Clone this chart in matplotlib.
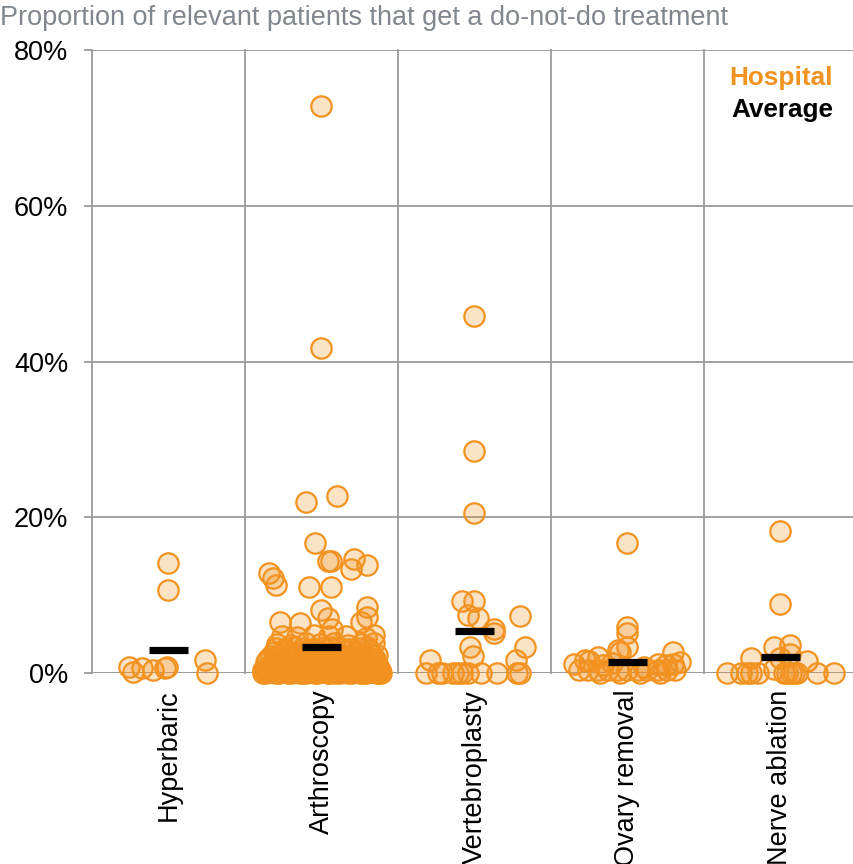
import matplotlib
matplotlib.use("Agg")
import matplotlib.pyplot as plt

plt.rcParams["font.family"] = ["Liberation Sans", "DejaVu Sans"]

categories = ["Hyperbaric", "Arthroscopy", "Vertebroplasty", "Ovary removal", "Nerve ablation"]
averages = [3.0, 3.3, 5.4, 1.4, 2.05]

# hospital values (%) and their horizontal jitter inside each column
hyperbaric = [0.8, 0.1, 0.6, 0.4, 0.6, 0.8, 1.7, 0.0, 14.1, 10.7]
hyperbaric_jit = [-0.26, -0.23, -0.17, -0.10, -0.02, -0.01, 0.24, 0.25, 0.0, 0.0]

arthroscopy = [
    72.8, 41.7, 22.0, 22.7, 16.7, 14.4, 14.4, 14.7, 13.4, 13.9, 12.8, 12.2, 11.3,
    11.1, 11.1, 8.1, 8.5, 7.0, 7.2, 6.6, 6.4, 6.6, 5.7, 4.9, 2.3,
    0.0, 0.1, 0.0, 0.2, 0.0, 0.1, 0.0, 0.0, 0.2, 0.0, 0.1, 0.0, 0.0, 0.2, 0.0, 0.1, 0.0, 0.0, 0.1, 0.0, 0.0,
    0.5, 0.6, 0.4, 0.5, 0.7, 0.5, 0.4, 0.6, 0.5, 0.5, 0.6, 0.4,
    1.0, 1.1, 0.9, 1.2, 1.0, 0.9, 1.1, 1.0, 1.2, 0.9,
    1.8, 1.7, 1.9, 1.8, 1.6, 2.0, 1.8, 1.7, 1.9, 1.8,
    2.7, 2.8, 2.6, 2.9, 2.7, 2.6, 2.8, 2.7, 2.9,
    3.7, 3.6, 3.9, 3.7, 3.8, 3.6, 3.7, 3.9,
    4.8, 4.6, 4.9, 4.7, 4.8, 4.5,
    0.2, 0.3, 0.2, 0.1, 0.3, 0.2, 0.2, 0.3, 0.1, 0.2, 0.3, 0.2, 0.1, 0.2, 0.3, 0.2, 0.2, 0.1, 0.3, 0.2,
    0.8, 0.7, 0.9, 0.8, 0.8, 0.7, 0.9, 0.8, 0.7, 0.8, 0.9, 0.8, 0.7, 0.8,
    1.4, 1.5, 1.3, 1.4, 1.5, 1.4, 1.3, 1.4, 1.5, 1.3, 1.4, 1.5, 1.4, 1.3, 1.4,
    2.2, 2.3, 2.1, 2.2, 2.3, 2.2, 2.1, 2.2, 2.3, 2.2, 2.1, 2.2, 2.3,
    3.2, 3.1, 3.3, 3.2, 3.1, 3.2, 3.3, 3.2, 3.1, 3.2, 3.3,
    0.0, 0.0, 0.0, 0.0, 0.0, 0.0, 0.0, 0.0, 0.0, 0.0,
    0.4, 0.4, 0.4, 0.4, 0.4, 0.4, 0.4, 0.4,
]
arthroscopy_jit = [
    0.0, 0.0, -0.10, 0.10, -0.04, 0.04, 0.06, 0.21, 0.19, 0.30, -0.34, -0.32, -0.30,
    -0.08, 0.06, 0.0, 0.30, 0.04, 0.30, -0.27, -0.14, 0.26, 0.07, 0.34, 0.36,
    -0.38, -0.34, -0.30, -0.26, -0.22, -0.18, -0.14, -0.10, -0.07, -0.03, 0.01, 0.05, 0.09, 0.13, 0.17, 0.21, 0.25, 0.29, 0.33, 0.37, 0.39,
    -0.36, -0.29, -0.23, -0.16, -0.10, -0.03, 0.03, 0.10, 0.16, 0.23, 0.29, 0.36,
    -0.33, -0.25, -0.17, -0.09, -0.01, 0.07, 0.14, 0.22, 0.30, 0.37,
    -0.35, -0.27, -0.20, -0.12, -0.04, 0.04, 0.12, 0.20, 0.27, 0.35,
    -0.31, -0.24, -0.16, -0.08, 0.0, 0.08, 0.16, 0.24, 0.31,
    -0.29, -0.20, -0.10, -0.01, 0.08, 0.17, 0.26, 0.34,
    -0.26, -0.16, -0.05, 0.05, 0.16, 0.29,
    -0.37, -0.33, -0.29, -0.25, -0.21, -0.17, -0.13, -0.09, -0.05, -0.01, 0.03, 0.07, 0.11, 0.15, 0.19, 0.23, 0.27, 0.31, 0.35, 0.38,
    -0.35, -0.30, -0.24, -0.19, -0.13, -0.08, -0.02, 0.04, 0.09, 0.15, 0.20, 0.26, 0.31, 0.36,
    -0.36, -0.31, -0.26, -0.21, -0.15, -0.10, -0.05, 0.0, 0.05, 0.10, 0.15, 0.20, 0.25, 0.30, 0.35,
    -0.33, -0.28, -0.22, -0.17, -0.11, -0.06, 0.0, 0.06, 0.11, 0.17, 0.22, 0.28, 0.33,
    -0.30, -0.24, -0.18, -0.12, -0.06, 0.0, 0.06, 0.12, 0.18, 0.24, 0.30,
    -0.36, -0.28, -0.20, -0.12, -0.04, 0.04, 0.12, 0.20, 0.28, 0.36,
    -0.38, -0.27, -0.14, -0.06, 0.06, 0.14, 0.27, 0.38,
]

vertebroplasty = [45.8, 28.5, 20.5, 9.2, 9.3, 7.4, 7.0, 5.7, 5.1, 7.3, 3.4, 2.2, 1.7, 3.4, 1.7,
                  0.0, 0.0, 0.0, 0.0, 0.0, 0.0, 0.0, 0.0, 0.0, 0.0, 0.0]
vertebroplasty_jit = [0.0, 0.0, 0.0, -0.08, 0.0, -0.04, 0.02, 0.13, 0.13, 0.30, -0.03, -0.01, -0.29, 0.33, 0.27,
                      -0.32, -0.24, -0.21, -0.14, -0.11, -0.08, -0.04, 0.04, 0.15, 0.28, 0.30]

ovary = [16.7, 5.9, 5.1, 3.4, 2.7, 2.7, 3.0, 1.2, 1.7, 2.1, 1.2, 1.2, 1.5, 1.0, 1.3, 0.8, 1.0, 1.4,
         0.4, 0.4, 0.4, 0.4, 0.4, 0.4, 0.4, 0.4, 0.4, 0.4, 0.4, 0.0, 0.0, 0.0, 0.0]
ovary_jit = [0.0, 0.0, 0.0, 0.0, -0.05, 0.30, -0.06, -0.35, -0.28, -0.19, 0.30, 0.20, -0.25, -0.16, -0.10, 0.11, 0.25, 0.34,
             -0.32, -0.26, -0.19, -0.13, -0.06, 0.0, 0.07, 0.13, 0.20, 0.26, 0.31, -0.18, -0.05, 0.08, 0.21]

nerve = [18.2, 8.9, 3.4, 3.6, 1.9, 1.5, 2.5, 1.9, 0.5,
         0.0, 0.0, 0.0, 0.0, 0.0, 0.0, 0.0, 0.0, 0.0, 0.0, 0.0, 0.0]
nerve_jit = [0.0, 0.0, -0.04, 0.06, -0.19, 0.17, 0.06, 0.0, -0.04,
             -0.35, -0.26, -0.22, -0.19, -0.15, 0.02, 0.04, 0.07, 0.09, 0.11, 0.24, 0.35]

series = [
    (hyperbaric, hyperbaric_jit),
    (arthroscopy, arthroscopy_jit),
    (vertebroplasty, vertebroplasty_jit),
    (ovary, ovary_jit),
    (nerve, nerve_jit),
]

ORANGE = "#F2921F"
GRID = "#9a9a9a"

fig = plt.figure(figsize=(8.54, 8.64), dpi=100)
ax = fig.add_axes([92 / 854, 191 / 864, 765 / 854, 623 / 864])

for i, (vals, jit) in enumerate(series):
    xs = [i + j for j in jit]
    ax.scatter(xs, vals, s=215, facecolors=(0.95, 0.57, 0.12, 0.25),
               edgecolors=ORANGE, linewidths=1.6, zorder=3, clip_on=False)

ax.hlines(averages, [i - 0.125 for i in range(5)], [i + 0.125 for i in range(5)],
          colors="black", linewidth=5.2, zorder=4)

ax.set_xlim(-0.5, 4.5)
ax.set_ylim(0, 80)
ax.set_yticks([0, 20, 40, 60, 80])
ax.set_yticklabels(["0%", "20%", "40%", "60%", "80%"])
ax.set_xticks(range(5))
ax.set_xticklabels(categories, rotation=90, va="top", ha="center")

for b in [-0.5, 0.5, 1.5, 2.5, 3.5, 4.5]:
    ax.axvline(b, color=GRID, linewidth=1.3, zorder=1, clip_on=False)
ax.yaxis.grid(True, color=GRID, linewidth=1.3, zorder=1)
ax.set_axisbelow(True)
for s in ax.spines.values():
    s.set_visible(False)
ax.axhline(0, color=GRID, linewidth=1.8, zorder=2)

ax.tick_params(axis="y", length=6, width=1.3, color=GRID, pad=11, labelsize=19.5)
ax.tick_params(axis="x", length=0, pad=12, labelsize=19.5)

fig.text(0.0, 1 - 18 / 864, "Proportion of relevant patients that get a do-not-do treatment",
         color="#80878e", fontsize=19.5, ha="left", va="center")
ax.text(0.9686, 0.955, "Hospital", transform=ax.transAxes, color=ORANGE,
        fontsize=18.8, fontweight="bold", ha="right", va="center")
ax.text(0.9686, 0.904, "Average", transform=ax.transAxes, color="black",
        fontsize=18.8, fontweight="bold", ha="right", va="center")

fig.savefig("out.png", dpi=100)
